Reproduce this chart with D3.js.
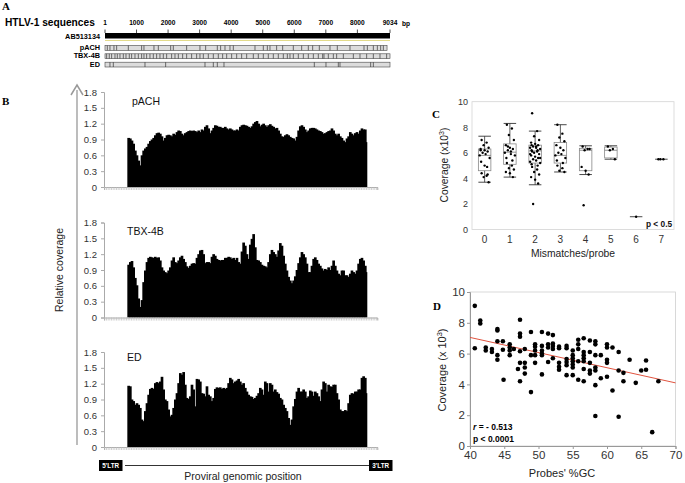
<!DOCTYPE html>
<html><head><meta charset="utf-8">
<script src="https://cdn.jsdelivr.net/npm/d3@7"></script>
<style>body{margin:0;background:#fff} svg{display:block}</style>
</head><body><svg id="chart" width="685" height="483"></svg>
<script>
// ---------- Panel A data ----------
const scaleTicksBp = [1,1000,2000,3000,4000,5000,6000,7000,8000,9034];
const refName = "AB513134";
const refLength = 9034;
const seqNames = ["pACH","TBX-4B","ED"];
const seqLengths = [8940, 9034, 9034];
const mismatchPACH = [74,158,285,370,740,1162,1236,1553,1691,2082,2166,2589,3011,3191,3561,3666,3804,3962,4068,4755,5019,5146,5230,5441,5632,5970,6234,6445,6583,6794,7132,7364,7766,8210,8316,8506,8633,8738,8823];
const mismatchTBX = [53,137,211,317,391,475,581,666,771,845,951,1057,1162,1236,1321,1426,1532,1638,1743,1849,1955,2113,2219,2325,2462,2589,2747,2906,3011,3117,3275,3434,3592,3730,3857,4015,4174,4332,4491,4702,4860,5019,5177,5336,5494,5653,5780,5864,5970,6128,6287,6445,6604,6762,6900,6942,7079,7238,7343,7555,7872,8083,8294,8506,8717,8928];
const mismatchED = [158,264,1268,1923,3170,3434,3561,3772,6635,7005,7396,7449,8421,8506];

// ---------- Panel B data (relative coverage per genomic bin; LTR bins = 0) ----------
const covPACH = [0,0,0,0,0,0,0,0,0,0,0,0,0,0,
0.93,0.92,0.88,0.82,0.69,0.6,0.5,0.41,0.6,0.69,
0.73,0.76,0.82,0.87,0.9,0.93,0.98,1.02,1.03,1.01,
0.96,0.88,0.93,0.98,0.99,0.98,0.96,1.01,0.99,1.04,
1.07,1.06,1.01,0.98,1.02,1.04,1.06,1.07,1.06,1.07,
1.06,1.04,1.07,1.04,1.09,1.07,1.14,1.17,1.11,1.02,
1.07,1.12,1.17,1.16,1.14,1.14,1.12,1.12,1.14,1.11,
1.09,1.11,1.09,1.07,1.07,1.09,1.07,1.14,1.17,1.18,
1.17,1.16,1.14,1.12,1.15,1.2,1.23,1.25,1.2,1.15,
1.18,1.2,1.17,1.14,1.17,1.19,1.16,1.14,1.11,1.12,
1.07,1.01,0.96,0.95,0.98,1.0,0.98,0.95,0.93,0.92,
0.88,0.95,1.07,1.15,1.17,1.14,1.09,1.04,1.07,1.11,
1.12,1.12,1.11,1.09,1.07,1.06,1.04,1.01,1.02,1.04,
1.06,1.07,1.11,1.07,1.01,0.98,1.01,0.96,0.93,0.88,
0.85,0.92,0.96,1.04,1.01,0.98,1.02,1.04,1.01,1.07,
1.11,1.09,1.09,0.85,
0,0,0,0,0,0];
const covTBX = [0,0,0,0,0,0,0,0,0,0,0,0,0,0,
1.0,1.05,1.07,0.95,0.75,0.61,0.36,0.2,0.33,0.67,
0.89,1.05,1.13,1.15,1.14,1.13,1.15,1.13,1.14,1.08,
0.95,0.89,0.86,0.84,0.89,0.95,1.08,1.14,1.05,1.03,
1.08,1.14,1.17,1.11,1.05,0.97,0.94,0.98,1.02,1.03,
1.02,1.13,1.2,1.27,1.28,1.2,1.03,1.05,1.05,1.03,
1.15,1.2,1.17,1.11,1.09,1.08,1.09,1.09,1.13,1.13,
1.15,1.14,1.11,1.13,1.09,1.13,1.05,1.02,1.25,1.42,
1.36,1.2,1.11,1.38,1.49,1.58,1.33,1.09,1.08,1.05,
1.0,0.98,0.97,0.95,1.05,1.2,1.28,1.24,1.2,1.15,
1.27,1.41,1.36,1.17,1.02,0.89,0.77,0.7,0.65,0.7,
0.78,0.9,1.03,1.14,1.24,1.2,1.14,1.02,0.86,0.86,
0.98,1.11,1.14,1.09,1.02,0.98,0.93,0.89,0.92,0.9,
0.95,0.9,0.98,1.08,0.98,0.89,0.83,0.8,0.89,0.89,
0.8,0.8,0.77,0.83,0.89,0.86,0.83,0.89,1.02,1.11,
1.13,1.08,0.98,0.86,
0,0,0,0,0,0];
const covED = [0,0,0,0,0,0,0,0,0,0,0,0,0,0,
1.16,1.15,0.9,0.87,0.8,0.83,0.8,0.74,0.52,0.49,
0.68,0.83,0.99,1.1,1.12,1.1,1.21,1.23,1.21,1.24,
1.33,1.09,0.9,0.87,0.71,0.58,0.61,0.74,0.9,1.02,
1.21,1.4,1.37,1.42,1.18,0.93,0.91,0.96,1.18,1.09,
0.77,1.29,1.28,1.24,1.02,1.01,0.96,1.15,0.99,0.96,
0.87,0.93,1.1,1.13,1.12,1.13,1.1,1.12,1.1,1.12,
1.21,1.31,1.28,1.21,1.24,1.26,1.29,1.24,1.18,1.21,
1.12,1.05,0.99,0.96,0.95,0.91,0.93,0.97,1.02,1.12,
1.09,0.99,1.24,1.21,1.05,1.21,1.18,1.05,1.09,1.04,
1.01,0.93,0.9,0.8,0.74,0.68,0.55,0.42,0.52,0.77,
0.91,1.05,1.12,1.05,1.05,1.09,1.05,0.93,0.96,1.07,
1.05,0.97,1.05,1.02,0.96,0.87,1.09,1.24,1.21,1.05,
1.18,1.15,1.14,1.18,1.18,1.02,0.9,0.71,0.68,0.68,
0.7,0.68,0.83,0.99,1.02,1.01,1.05,1.05,1.09,1.09,
1.31,1.34,1.31,1.02,
0,0,0,0,0,0];
const relTicks = [0,0.3,0.6,0.9,1.2,1.5,1.8];

// ---------- Panel C data ----------
const mismatchCats = ["0","1","2","3","4","5","6","7"];
const mmPoints = [
 [7.0,6.8,6.6,6.4,6.3,6.2,6.1,6.0,5.9,5.8,5.6,5.3,4.9,4.4,4.2,4.1,3.7,6.2,5.0,4.3],
 [8.2,7.9,7.4,7.0,6.6,6.4,6.3,6.2,6.1,6.0,5.8,5.6,5.4,5.2,5.0,4.8,4.7,4.5,4.4,4.1,6.5,5.9],
 [9.1,7.7,7.3,7.0,6.8,6.7,6.6,6.5,6.5,6.4,6.3,6.2,6.2,6.1,6.1,6.0,5.9,5.8,5.7,5.6,5.5,5.4,5.3,5.2,5.1,5.0,4.9,4.7,4.5,4.3,4.1,3.9,3.6,2.0,6.4,5.9,5.6,6.6],
 [8.2,7.5,7.2,6.9,6.6,6.4,6.2,6.0,5.9,5.8,5.6,5.4,5.2,5.0,4.8,4.6,4.5],
 [6.5,6.3,6.2,6.3,4.9,4.6,4.3,1.9],
 [6.5,6.3,6.2,5.5],
 [1.0],
 [5.5,5.5,5.5]
];
const boxQ1      = [4.6,5.1,5.2,5.2,4.6,5.6,1.0,5.5];
const boxMedian  = [5.8,6.05,6.15,5.8,6.2,6.2,1.0,5.5];
const boxQ3      = [6.3,6.7,6.6,6.8,6.35,6.45,1.0,5.5];
const whiskerLow = [3.7,4.1,3.5,4.5,4.3,5.5,1.0,5.5];
const whiskerHigh= [7.3,8.3,7.7,8.2,6.55,6.55,1.0,5.5];
const coverageTicks = [0,2,4,6,8,10];

// ---------- Panel D data ----------
const gcPercent = [40.7,40.7,41.5,41.5,42.3,42.3,43.2,43.2,44.0,44.0,44.0,44.0,44.0,44.8,44.8,44.9,45.8,45.8,45.8,45.8,46.4,47.0,47.3,47.3,47.3,47.3,47.3,47.3,48.0,48.0,48.0,48.0,48.9,48.9,48.9,49.5,49.5,49.5,49.5,49.5,50.5,50.5,50.5,50.5,50.5,50.5,51.4,51.4,51.4,51.4,52.1,52.1,52.1,52.1,52.1,53.0,53.0,53.0,53.0,53.0,54.1,54.1,54.1,54.1,54.1,54.1,55.0,55.0,55.0,55.0,55.0,55.0,55.0,55.8,55.8,55.8,55.8,55.8,56.6,56.6,56.6,56.6,56.6,56.6,56.6,57.5,57.5,57.5,57.5,57.5,58.3,58.3,58.3,58.3,58.3,58.3,58.3,59.1,59.1,60.0,60.0,60.0,60.0,60.0,60.8,60.8,61.7,61.7,61.7,62.4,62.4,63.3,64.2,65.0,65.7,65.7,66.6,67.5];
const gcCoverage = [9.1,6.35,8.15,7.95,6.4,6.2,6.3,6.1,7.6,7.5,6.8,5.9,5.6,6.8,6.25,4.3,6.6,6.4,6.2,5.9,6.3,5.0,8.2,7.3,7.1,6.15,5.4,4.2,6.3,5.4,5.1,4.7,7.4,5.9,3.5,6.6,6.45,6.2,5.9,5.4,7.4,6.5,6.2,6.0,5.9,4.65,7.3,6.6,6.4,5.45,7.2,6.65,6.5,6.3,5.7,6.45,6.35,5.4,5.15,4.95,6.5,6.35,5.65,5.45,5.25,4.6,6.2,5.9,5.7,5.5,5.3,5.1,4.6,6.9,6.6,6.3,5.5,4.3,7.0,6.1,5.9,5.7,5.5,5.0,4.2,6.85,6.1,5.4,4.9,4.7,6.8,6.6,5.9,5.1,4.9,3.95,1.95,5.9,4.4,6.6,6.4,5.6,5.4,4.5,6.4,3.6,6.1,4.9,1.9,4.75,4.2,5.6,4.1,4.9,5.55,4.95,0.9,4.2];
const fitLine = [[40,7.05],[70,4.1]];
const gcTicks = [40,45,50,55,60,65,70];

// ================= drawing =================
const svg = d3.select("#chart");
svg.append("rect").attr("width",685).attr("height",483).attr("fill","#fff");
const SANS = "Arial, 'Liberation Sans', Helvetica, sans-serif";
const SERIF = "'Times New Roman', 'Liberation Serif', serif";

function panelLetter(t,x,y){
  svg.append("text").attr("x",x).attr("y",y).text(t)
    .attr("font-family",SERIF).attr("font-weight","bold").attr("font-size",11).attr("fill","#000");
}

// ---------- Panel A ----------
panelLetter("A",2,10);
const gA = svg.append("g");
const xA = d3.scaleLinear().domain([1,refLength]).range([105,390]);
gA.append("text").attr("x",5).attr("y",26).text("HTLV-1 sequences")
  .attr("font-family",SANS).attr("font-weight","bold").attr("font-size",10.2);
gA.selectAll(".sl").data(scaleTicksBp).join("text")
  .attr("x",d=>xA(d)).attr("y",25).attr("text-anchor","middle")
  .attr("font-family",SANS).attr("font-weight","bold").attr("font-size",6.6).text(d=>d);
gA.append("text").attr("x",402).attr("y",25.5).text("bp")
  .attr("font-family",SANS).attr("font-weight","bold").attr("font-size",6.6);
gA.selectAll(".st").data(scaleTicksBp).join("line")
  .attr("x1",d=>xA(d)).attr("x2",d=>xA(d)).attr("y1",29.5).attr("y2",33)
  .attr("stroke","#222").attr("stroke-width",0.8);
gA.append("rect").attr("x",xA(1)).attr("y",33).attr("width",xA(refLength)-xA(1)).attr("height",5.5).attr("fill","#000");
gA.append("line").attr("x1",xA(1)).attr("x2",xA(refLength)).attr("y1",40.5).attr("y2",40.5)
  .attr("stroke","#e3db8a").attr("stroke-width",1.2);
gA.append("text").attr("x",100).attr("y",38.5).attr("text-anchor","end").text(refName)
  .attr("font-family",SANS).attr("font-weight","bold").attr("font-size",7.3);
const mismatchSets = [mismatchPACH, mismatchTBX, mismatchED];
const seqY = [45.5, 53.8, 62.2];
seqNames.forEach((nm,i)=>{
  const g = gA.append("g");
  g.append("rect").attr("x",xA(1)).attr("y",seqY[i]).attr("width",xA(seqLengths[i])-xA(1)).attr("height",4.8)
    .attr("fill","#dcdcdc").attr("stroke","#444").attr("stroke-width",0.6);
  g.selectAll("line").data(mismatchSets[i]).join("line")
    .attr("x1",d=>xA(d)).attr("x2",d=>xA(d)).attr("y1",seqY[i]).attr("y2",seqY[i]+4.8)
    .attr("stroke","#333").attr("stroke-width",0.7);
  g.append("text").attr("x",100).attr("y",seqY[i]+4.6).attr("text-anchor","end").text(nm)
    .attr("font-family",SANS).attr("font-weight","bold").attr("font-size",7.3);
});

// ---------- Panel B ----------
panelLetter("B",2,105);
svg.append("line").attr("x1",77).attr("x2",77).attr("y1",90).attr("y2",445)
  .attr("stroke","#999").attr("stroke-width",1.3);
svg.append("path").attr("d","M71,95 L77,85 L83,95").attr("fill","none").attr("stroke","#999").attr("stroke-width",1.5);
svg.append("text").attr("transform","translate(63,270) rotate(-90)").attr("text-anchor","middle")
  .text("Relative coverage").attr("font-family",SANS).attr("font-size",10.5).attr("fill","#222");

const binIdx = d3.range(covPACH.length);
const xB = d3.scaleBand().domain(binIdx).range([104,377.3]).padding(0);
const seriesB = [
  {name:"pACH", values:covPACH, base:187, lblY:105},
  {name:"TBX-4B", values:covTBX, base:317.5, lblY:235},
  {name:"ED", values:covED, base:447, lblY:361}
];
seriesB.forEach(s=>{
  const y = d3.scaleLinear().domain([0,1.8]).range([s.base, s.base-95]);
  const g = svg.append("g");
  g.selectAll("rect").data(s.values).join("rect")
    .attr("x",(d,i)=>xB(i)).attr("width",(d,i)=> (i < s.values.length-1 && s.values[i+1] > 0) ? xB.bandwidth()+1 : xB.bandwidth())
    .attr("y",d=>y(d)).attr("height",d=>s.base-y(d)).attr("fill","#000");
  const ya = g.append("g").attr("transform","translate(104,0)")
    .call(d3.axisLeft(y).tickValues(relTicks).tickSize(3).tickFormat(d=>d===0?"0":d3.format(".1f")(d)));
  ya.select(".domain").attr("stroke","#aaa");
  ya.selectAll(".tick line").attr("stroke","#aaa");
  ya.selectAll("text").attr("font-family",SANS).attr("font-size",9.5).attr("fill","#333").attr("x",-7);
  const xa = g.append("g").attr("transform",`translate(0,${s.base})`)
    .call(d3.axisBottom(xB).tickValues(binIdx).tickSize(3).tickFormat(""));
  xa.select(".domain").attr("stroke","#aaa");
  xa.selectAll(".tick line").attr("stroke","#bbb").attr("stroke-width",0.7);
  g.append("text").attr("x",s.name==="pACH"?132:127).attr("y",s.lblY).text(s.name)
    .attr("font-family",SANS).attr("font-size",10.5).attr("fill","#111");
});
const ltr = svg.append("g");
ltr.append("line").attr("x1",125).attr("x2",369).attr("y1",465.5).attr("y2",465.5).attr("stroke","#000").attr("stroke-width",0.8);
[["5'LTR",99],["3'LTR",369]].forEach(([t,x])=>{
  ltr.append("rect").attr("x",x).attr("y",460).attr("width",23.5).attr("height",11).attr("fill","#000");
  ltr.append("text").attr("x",x+11.75).attr("y",468.3).attr("text-anchor","middle").text(t)
    .attr("font-family",SANS).attr("font-weight","bold").attr("font-size",6.3).attr("fill","#fff");
});
svg.append("text").attr("x",243).attr("y",480).attr("text-anchor","middle").text("Proviral genomic position")
  .attr("font-family",SANS).attr("font-size",10.5).attr("fill","#222");

// ---------- Panel C ----------
panelLetter("C",432,118);
const xC = d3.scaleBand().domain(mismatchCats).range([472,674]);
const yC = d3.scaleLinear().domain([0,10]).range([229.5,101.7]);
const gC = svg.append("g");
gC.append("rect").attr("x",472).attr("y",yC(10)).attr("width",202).attr("height",yC(0)-yC(10))
  .attr("fill","none").attr("stroke","#d4d4d4").attr("stroke-width",0.8);
const yCa = gC.append("g").attr("transform","translate(472,0)")
  .call(d3.axisLeft(yC).tickValues(coverageTicks).tickSize(0).tickPadding(4));
yCa.select(".domain").remove();
yCa.selectAll("text").attr("font-family",SANS).attr("font-size",9).attr("fill","#333");
const xCa = gC.append("g").attr("transform","translate(0,229.5)")
  .call(d3.axisBottom(xC).tickSize(0).tickPadding(6));
xCa.select(".domain").remove();
xCa.selectAll("text").attr("font-family",SANS).attr("font-size",10).attr("fill","#333");
const boxW = 12.5;
mismatchCats.forEach((c,i)=>{
  const cx = xC(c)+xC.bandwidth()/2;
  const g = gC.append("g");
  if (boxQ3[i] > boxQ1[i]) {
    g.append("line").attr("x1",cx).attr("x2",cx).attr("y1",yC(whiskerHigh[i])).attr("y2",yC(boxQ3[i])).attr("stroke","#333").attr("stroke-width",0.8);
    g.append("line").attr("x1",cx).attr("x2",cx).attr("y1",yC(boxQ1[i])).attr("y2",yC(whiskerLow[i])).attr("stroke","#333").attr("stroke-width",0.8);
    [whiskerHigh[i],whiskerLow[i]].forEach(v=>{
      g.append("line").attr("x1",cx-boxW/2).attr("x2",cx+boxW/2).attr("y1",yC(v)).attr("y2",yC(v)).attr("stroke","#333").attr("stroke-width",0.9);
    });
    g.append("rect").attr("x",cx-boxW/2).attr("y",yC(boxQ3[i])).attr("width",boxW).attr("height",yC(boxQ1[i])-yC(boxQ3[i]))
      .attr("fill","none").attr("stroke","#888").attr("stroke-width",0.8);
    g.append("line").attr("x1",cx-boxW/2).attr("x2",cx+boxW/2).attr("y1",yC(boxMedian[i])).attr("y2",yC(boxMedian[i])).attr("stroke","#777").attr("stroke-width",0.8);
  } else {
    g.append("line").attr("x1",cx-boxW/2).attr("x2",cx+boxW/2).attr("y1",yC(boxMedian[i])).attr("y2",yC(boxMedian[i])).attr("stroke","#333").attr("stroke-width",0.9);
  }
  const jit = [-3,2,-1,4,-4,0,3,-2,1,-5,5,-3.5,2.5];
  g.selectAll("circle").data(mmPoints[i]).join("circle")
    .attr("cx",(d,j)=>cx+(mmPoints[i].length>1 ? jit[j%jit.length] : 0)).attr("cy",d=>yC(d)).attr("r",1.2).attr("fill","#000");
});
gC.append("text").attr("transform","translate(448,165) rotate(-90)").attr("text-anchor","middle")
  .attr("font-family",SANS).attr("font-size",10.3).attr("fill","#222")
  .html('Coverage (x10<tspan dy="-4" font-size="7">3</tspan><tspan dy="4">)</tspan>');
gC.append("text").attr("x",573).attr("y",257).attr("text-anchor","middle").text("Mismatches/probe")
  .attr("font-family",SANS).attr("font-size",10.3).attr("fill","#222");
gC.append("text").attr("x",646).attr("y",226.5).text("p < 0.5")
  .attr("font-family",SANS).attr("font-weight","bold").attr("font-size",8.3).attr("fill","#111");

// ---------- Panel D ----------
panelLetter("D",433,310);
const xD = d3.scaleLinear().domain([40,70]).range([470,675.5]);
const yD = d3.scaleLinear().domain([0,10]).range([446,292]);
const gD = svg.append("g");
gD.append("rect").attr("x",xD(40)).attr("y",yD(10)).attr("width",xD(70)-xD(40)).attr("height",yD(0)-yD(10))
  .attr("fill","none").attr("stroke","#cfcfcf").attr("stroke-width",0.8);
const xDa = gD.append("g").attr("transform","translate(0,446)")
  .call(d3.axisBottom(xD).tickValues(gcTicks).tickSize(3).tickPadding(2));
xDa.select(".domain").attr("stroke","#999");
xDa.selectAll(".tick line").attr("stroke","#999");
xDa.selectAll("text").attr("font-family",SANS).attr("font-size",11.5).attr("fill","#333");
const yDa = gD.append("g").attr("transform","translate(470,0)")
  .call(d3.axisLeft(yD).tickValues(coverageTicks).tickSize(3).tickPadding(2));
yDa.select(".domain").attr("stroke","#999");
yDa.selectAll(".tick line").attr("stroke","#999");
yDa.selectAll("text").attr("font-family",SANS).attr("font-size",11.5).attr("fill","#333");
gD.append("line").attr("x1",xD(fitLine[0][0])).attr("y1",yD(fitLine[0][1])).attr("x2",xD(fitLine[1][0])).attr("y2",yD(fitLine[1][1]))
  .attr("stroke","#e0533f").attr("stroke-width",1);
gD.selectAll("circle").data(gcPercent).join("circle")
  .attr("cx",d=>xD(d)).attr("cy",(d,i)=>yD(gcCoverage[i])).attr("r",2.3).attr("fill","#000");
gD.append("text").attr("transform","translate(446,370) rotate(-90)").attr("text-anchor","middle")
  .attr("font-family",SANS).attr("font-size",11).attr("fill","#222")
  .html('Coverage (x 10<tspan dy="-4" font-size="7.5">3</tspan><tspan dy="4">)</tspan>');
gD.append("text").attr("x",562).attr("y",477).attr("text-anchor","middle").text("Probes' %GC")
  .attr("font-family",SANS).attr("font-size",11).attr("fill","#222");
gD.append("text").attr("x",473).attr("y",430).attr("font-family",SANS).attr("font-weight","bold").attr("font-size",8.5)
  .html('<tspan font-style="italic">r</tspan> = - 0.513');
gD.append("text").attr("x",473).attr("y",442).attr("font-family",SANS).attr("font-weight","bold").attr("font-size",8.5)
  .text("p < 0.0001");
</script></body></html>
